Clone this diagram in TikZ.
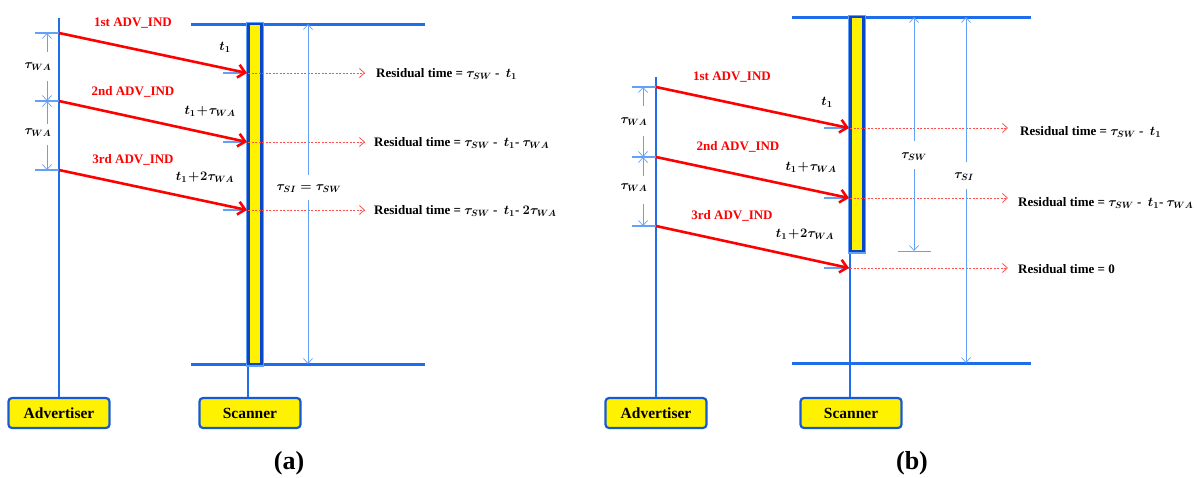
\documentclass[tikz,border=0pt]{standalone}
\usepackage{fix-cm}
\usepackage{fontspec}
\setmainfont{Liberation Serif}
\usetikzlibrary{arrows.meta}

\definecolor{lineblue}{RGB}{30,110,235}
\definecolor{thinblue}{RGB}{100,160,245}
\definecolor{barblue}{RGB}{10,70,200}
\definecolor{boxblue}{RGB}{20,90,215}
\definecolor{sigred}{RGB}{255,0,0}
\definecolor{dotred}{RGB}{255,80,80}

\begin{document}
\begin{tikzpicture}[x=1pt,y=-1pt,
  lbl/.style={font=\fontsize{13}{15}\selectfont\bfseries\boldmath,inner sep=0pt},
  advlbl/.style={lbl,text=sigred},
  tlbl/.style={font=\fontsize{13}{15}\selectfont\boldmath,inner sep=0pt},
  reslbl/.style={lbl,anchor=west},
  entity/.style={draw=boxblue,line width=2.2pt,fill=yellow,rounded corners=3.5pt,
    minimum width=101pt,minimum height=30pt,inner sep=0pt,
    font=\fontsize{15.5}{17}\selectfont\bfseries},
  lifeline/.style={lineblue,line width=1.2pt},
  rail/.style={lineblue,line width=3pt},
  halo/.style={draw=thinblue,line width=5pt},
  window/.style={draw=barblue,line width=2.6pt,fill=yellow},
  msg/.style={sigred,line width=2.6pt,
    -{Straight Barb[length=7pt,width=13pt,line width=2.6pt]}},
  tick/.style={thinblue,line width=1.4pt},
  dimend/.style={thinblue,line width=0.7pt,-{Straight Barb[length=5pt,width=9pt]}},
  dimline/.style={thinblue,line width=0.7pt},
  resid/.style={dotred,line width=0.8pt,dash pattern=on 2pt off 1.5pt,
    -{Straight Barb[length=5pt,width=9pt,line width=0.8pt]}},
  caption/.style={font=\fontsize{26}{28}\selectfont\bfseries,inner sep=0pt},
]
\useasboundingbox (0,0) rectangle (1197,477);

% ===================== panel (a) =====================
\node[entity] (a-adv) at (59,413) {Advertiser};
\node[entity] (a-scn) at (250,413) {Scanner};
\coordinate (a-advtop) at (59,18);
\coordinate (a-scntop) at (248,364);
\draw[lifeline] (a-adv.north) -- (a-advtop);
\draw[lifeline] (a-scn.north -| a-scntop) -- (a-scntop);

% scan interval rails
\coordinate (a-railTL) at (191,24);
\coordinate (a-railTR) at (425,24);
\coordinate (a-railBL) at (191,364);
\coordinate (a-railBR) at (425,364);
\draw[rail] (a-railTL) -- (a-railTR);
\draw[rail] (a-railBL) -- (a-railBR);

% scan window bar
\draw[halo] (248.5,24) rectangle (261.5,364);
\draw[window] (248.5,24) rectangle (261.5,364);

% send / receive instants
\coordinate (a-s1) at (59,33);
\coordinate (a-s2) at (59,101);
\coordinate (a-s3) at (59,170);
\coordinate (a-r1) at (247,73);
\coordinate (a-r2) at (247,142);
\coordinate (a-r3) at (247,210);

% ticks at the advertiser and scanner
\foreach \i in {1,2,3}{
  \draw[tick] (a-s\i) -- ++(-24,0);
  \draw[tick] (a-r\i) -- ++(-24,0);
}

% advertising interval dimensions
\node[tlbl] (a-wa1) at (38,67) {$\tau_{WA}$};
\node[tlbl] (a-wa2) at (38,133) {$\tau_{WA}$};
\coordinate (a-d1a) at (47,52);
\coordinate (a-d1b) at (47,81);
\coordinate (a-d2a) at (47,124);
\coordinate (a-d2b) at (47,145);
\draw[dimend] (a-d1a) -- (a-s1 -| a-d1a);
\draw[dimend] (a-d1b) -- (a-s2 -| a-d1b);
\draw[dimend] (a-d2a) -- (a-s2 -| a-d2a);
\draw[dimend] (a-d2b) -- (a-s3 -| a-d2b);

% advertising PDUs
\draw[msg] (a-s1) -- (a-r1);
\draw[msg] (a-s2) -- (a-r2);
\draw[msg] (a-s3) -- (a-r3);
\node[advlbl] (a-m1) at (133,23) {1st ADV\_IND};
\node[advlbl] (a-m2) at (133,92) {2nd ADV\_IND};
\node[advlbl] (a-m3) at (133,160) {3rd ADV\_IND};
\node[tlbl] (a-t1) at (225,47) {$t_1$};
\node[tlbl] (a-t2) at (210,111) {$t_1\!+\!\tau_{WA}$};
\node[tlbl] (a-t3) at (205,177) {$t_1\!+\!2\tau_{WA}$};

% residual times
\node[reslbl] (a-res1) at (376,74) {Residual time = $\tau_{SW}$ -\enspace$t_1$};
\node[reslbl] (a-res2) at (374,143) {Residual time = $\tau_{SW}$ -\enspace$t_1$- $\tau_{WA}$};
\node[reslbl] (a-res3) at (374,211) {Residual time = $\tau_{SW}$ -\enspace$t_1$- $2\tau_{WA}$};
\draw[resid] (a-r1 -| a-scntop) -- (a-r1 -| 365,0);
\draw[resid] (a-r2 -| a-scntop) -- (a-r2 -| 365,0);
\draw[resid] (a-r3 -| a-scntop) -- (a-r3 -| 365,0);

% scan interval = scan window
\node[tlbl] (a-si) at (309,189) {$\tau_{SI}=\tau_{SW}$};
\coordinate (a-siA) at (308,175);
\coordinate (a-siB) at (308,200);
\draw[dimend] (a-siA) -- (a-railTL -| a-siA);
\draw[dimend] (a-siB) -- (a-railBL -| a-siB);

\node[caption] (a-cap) at (289,463) {(a)};

% ===================== panel (b) =====================
\node[entity] (b-adv) at (656,413) {Advertiser};
\node[entity] (b-scn) at (851,413) {Scanner};
\coordinate (b-advtop) at (656,77);
\coordinate (b-scntop) at (850,17);
\draw[lifeline] (b-adv.north) -- (b-advtop);
\draw[lifeline] (b-scn.north -| b-scntop) -- (b-scntop);

\coordinate (b-railTL) at (792,17);
\coordinate (b-railTR) at (1031,17);
\coordinate (b-railBL) at (792,363);
\coordinate (b-railBR) at (1031,363);
\draw[rail] (b-railTL) -- (b-railTR);
\draw[rail] (b-railBL) -- (b-railBR);

\draw[halo] (850.5,17) rectangle (863.5,251);
\draw[window] (850.5,17) rectangle (863.5,251);

\coordinate (b-s1) at (656,87);
\coordinate (b-s2) at (656,157);
\coordinate (b-s3) at (656,226);
\coordinate (b-r1) at (849,128);
\coordinate (b-r2) at (849,198);
\coordinate (b-r3) at (849,268);

\foreach \i in {1,2,3}{
  \draw[tick] (b-s\i) -- ++(-24,0);
  \draw[tick] (b-r\i) -- ++(-25,0);
}

\node[tlbl] (b-wa1) at (634,122) {$\tau_{WA}$};
\node[tlbl] (b-wa2) at (634,188) {$\tau_{WA}$};
\coordinate (b-d1a) at (643,106);
\coordinate (b-d1b) at (643,136);
\coordinate (b-d2a) at (643,176);
\coordinate (b-d2b) at (643,204);
\draw[dimend] (b-d1a) -- (b-s1 -| b-d1a);
\draw[dimend] (b-d1b) -- (b-s2 -| b-d1b);
\draw[dimend] (b-d2a) -- (b-s2 -| b-d2a);
\draw[dimend] (b-d2b) -- (b-s3 -| b-d2b);

\draw[msg] (b-s1) -- (b-r1);
\draw[msg] (b-s2) -- (b-r2);
\draw[msg] (b-s3) -- (b-r3);
\node[advlbl] (b-m1) at (732,77) {1st ADV\_IND};
\node[advlbl] (b-m2) at (738,147) {2nd ADV\_IND};
\node[advlbl] (b-m3) at (732,216) {3rd ADV\_IND};
\node[tlbl] (b-t1) at (827,102) {$t_1$};
\node[tlbl] (b-t2) at (811,167) {$t_1\!+\!\tau_{WA}$};
\node[tlbl] (b-t3) at (805,234) {$t_1\!+\!2\tau_{WA}$};

\node[reslbl] (b-res1) at (1020,132) {Residual time = $\tau_{SW}$ -\enspace$t_1$};
\node[reslbl] (b-res2) at (1018,203) {Residual time = $\tau_{SW}$ -\enspace$t_1$- $\tau_{WA}$};
\node[reslbl] (b-res3) at (1018,269) {Residual time = 0};
\draw[resid] (b-r1 -| b-scntop) -- (b-r1 -| 1008,0);
\draw[resid] (b-r2 -| b-scntop) -- (b-r2 -| 1008,0);
\draw[resid] (b-r3 -| b-scntop) -- (b-r3 -| 1008,0);

% scan window dimension
\node[tlbl] (b-sw) at (914,157) {$\tau_{SW}$};
\coordinate (b-swA) at (914,141);
\coordinate (b-swB) at (914,169);
\coordinate (b-swend) at (914,251);
\draw[dimend] (b-swA) -- (b-railTL -| b-swA);
\draw[dimend] (b-swB) -- (b-swend);
\draw[dimline] (b-swend) ++(-16,0) coordinate (b-swL) -- ++(33,0) coordinate (b-swR);

% scan interval dimension
\node[tlbl] (b-si) at (964,177) {$\tau_{SI}$};
\coordinate (b-siA) at (966,162);
\coordinate (b-siB) at (966,189);
\draw[dimend] (b-siA) -- (b-railTL -| b-siA);
\draw[dimend] (b-siB) -- (b-railBL -| b-siB);

\node[caption] (b-cap) at (912,463) {(b)};
\end{tikzpicture}
\end{document}
